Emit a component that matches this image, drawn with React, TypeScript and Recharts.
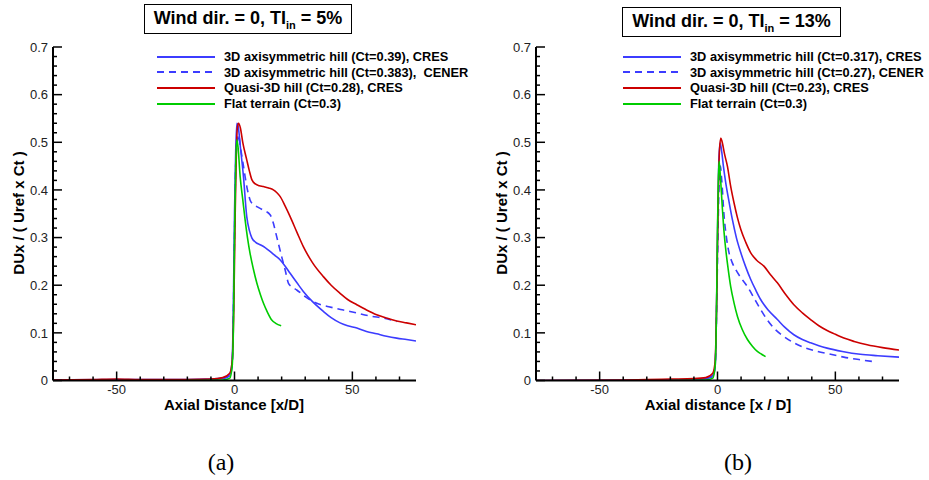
import { LineChart, Line, XAxis, YAxis } from "recharts"

// values: [x/D, DUx/(Uref x Ct)]
const aHill3dCres = [
  [-77, 0.001], [-50, 0.002], [-20, 0.002], [-10, 0.003], [-5, 0.005], [-2, 0.012], [-1, 0.04],
  [-0.5, 0.15], [0, 0.35], [0.5, 0.48], [1, 0.54], [1.5, 0.535], [2.5, 0.49], [3.8, 0.428],
  [5.2, 0.344], [6.3, 0.315], [7.4, 0.299], [9, 0.29], [10.9, 0.285], [13, 0.279], [15.1, 0.271],
  [17, 0.263], [19.4, 0.253], [21.5, 0.24], [23.6, 0.225], [26.5, 0.205], [29.2, 0.187],
  [33, 0.166], [37.7, 0.145], [41, 0.132], [44.8, 0.121], [48, 0.115], [51.9, 0.11], [56, 0.103],
  [60.3, 0.098], [64.5, 0.093], [68.8, 0.089], [73, 0.086], [77, 0.083],
]
const aHill3dCener = [
  [-20, 0.001], [-5, 0.004], [-2, 0.01], [-1, 0.03], [0, 0.3], [0.5, 0.45], [1.2, 0.5],
  [1.7, 0.516], [2.5, 0.49], [3.5, 0.46], [4.5, 0.428], [5.5, 0.4], [6.6, 0.379], [8, 0.369],
  [9.5, 0.365], [12, 0.358], [15.1, 0.348], [16.5, 0.33], [17.5, 0.31], [18.6, 0.288], [20, 0.26],
  [21.5, 0.232], [22.9, 0.204], [24.5, 0.196], [26.4, 0.19], [30, 0.176], [34.9, 0.162],
  [40, 0.155], [45, 0.149], [49, 0.145], [54, 0.139], [58, 0.135], [63.2, 0.131], [68.8, 0.124],
]
const aQuasi = [
  [-77, 0.001], [-60, 0.002], [-50, 0.003], [-40, 0.002], [-20, 0.002], [-10, 0.003], [-5, 0.006],
  [-2, 0.015], [-1, 0.04], [-0.3, 0.15], [0.3, 0.35], [0.8, 0.48], [1.2, 0.53], [1.7, 0.54],
  [2.5, 0.53], [3.5, 0.5], [5.2, 0.463], [6.3, 0.44], [7.4, 0.421], [9, 0.412], [10.5, 0.409],
  [12.3, 0.407], [14.5, 0.404], [16.5, 0.4], [18, 0.394], [19.4, 0.386], [21.5, 0.366],
  [23.6, 0.344], [26.5, 0.311], [29.2, 0.281], [33, 0.248], [37.7, 0.218], [41, 0.2],
  [44.8, 0.183], [48, 0.17], [51.9, 0.159], [56, 0.148], [60.3, 0.138], [64.5, 0.131],
  [68.8, 0.125], [73, 0.121], [77, 0.117],
]
const aFlat = [
  [-20, 0], [-5, 0.001], [-2, 0.005], [-1, 0.03], [-0.5, 0.1], [0, 0.3], [0.5, 0.45], [1, 0.505],
  [1.5, 0.49], [2.4, 0.428], [3.5, 0.38], [4.5, 0.337], [5.5, 0.3], [6.6, 0.267], [8, 0.234],
  [9.5, 0.204], [11, 0.18], [12.3, 0.162], [14, 0.143], [15.8, 0.127], [17.5, 0.12], [19.8, 0.115],
]

const bHill3dCres = [
  [-77, 0], [-30, 0.001], [-10, 0.002], [-5, 0.004], [-2, 0.01], [-1, 0.03], [-0.5, 0.12], [0, 0.3],
  [0.5, 0.45], [1.1, 0.499], [1.8, 0.48], [2.5, 0.45], [3.5, 0.415], [4.9, 0.375], [6.3, 0.338],
  [8, 0.3], [9.9, 0.268], [12, 0.238], [14.1, 0.212], [16.2, 0.19], [18.3, 0.17], [21.5, 0.148],
  [25.4, 0.128], [28.5, 0.112], [32.4, 0.096], [36, 0.086], [39.5, 0.079], [43, 0.073],
  [46.5, 0.068], [53, 0.061], [60.6, 0.055], [68, 0.052], [77, 0.049],
]
const bHill3dCener = [
  [-10, 0.001], [-2, 0.008], [-1, 0.03], [0, 0.25], [0.6, 0.4], [1.2, 0.45], [1.8, 0.42],
  [2.8, 0.345], [3.8, 0.3], [4.9, 0.268], [6.2, 0.248], [7.7, 0.233], [10, 0.215], [12.7, 0.197],
  [15.5, 0.173], [18.3, 0.149], [21, 0.128], [23.9, 0.11], [28, 0.093], [32.4, 0.079], [37, 0.069],
  [42.3, 0.061], [48, 0.055], [53.6, 0.049], [60, 0.044], [65.6, 0.04],
]
const bQuasi = [
  [-77, 0], [-40, 0.001], [-30, 0.002], [-20, 0.003], [-10, 0.004], [-5, 0.006], [-2, 0.015],
  [-1, 0.04], [-0.4, 0.15], [0.2, 0.35], [0.8, 0.48], [1.4, 0.509], [2, 0.5], [3, 0.475],
  [4.2, 0.45], [5.5, 0.41], [7, 0.373], [8.4, 0.343], [9.9, 0.317], [12, 0.29], [14.1, 0.268],
  [16.5, 0.253], [19.7, 0.24], [22.5, 0.222], [25.4, 0.205], [29, 0.18], [32.4, 0.159],
  [36, 0.142], [39.5, 0.128], [43, 0.115], [46.5, 0.105], [50, 0.097], [53.6, 0.089], [58, 0.082],
  [63.5, 0.075], [70, 0.069], [77, 0.064],
]
const bFlat = [
  [-20, 0], [-5, 0.001], [-2, 0.005], [-1, 0.03], [-0.5, 0.12], [0, 0.32], [0.4, 0.43], [0.7, 0.46],
  [1.2, 0.43], [2.1, 0.359], [2.8, 0.31], [3.5, 0.275], [4.5, 0.235], [5.6, 0.197], [7, 0.163],
  [8.5, 0.134], [10.5, 0.107], [12.7, 0.086], [14.8, 0.072], [16.9, 0.061], [18.7, 0.055], [20.4, 0.05],
]

const xTicks = [-70, -60, -50, -40, -30, -20, -10, 0, 10, 20, 30, 40, 50, 60, 70]
const yTicks = [
  0, 0.02, 0.04, 0.06, 0.08, 0.1, 0.12, 0.14, 0.16, 0.18, 0.2, 0.22, 0.24, 0.26, 0.28, 0.3, 0.32,
  0.34, 0.36, 0.38, 0.4, 0.42, 0.44, 0.46, 0.48, 0.5, 0.52, 0.54, 0.56, 0.58, 0.6, 0.62, 0.64,
  0.66, 0.68, 0.7,
]

const aNames = [
  "3D axisymmetric hill (Ct=0.39), CRES",
  "3D axisymmetric hill (Ct=0.383),  CENER",
  "Quasi-3D hill (Ct=0.28), CRES",
  "Flat terrain (Ct=0.3)",
]
const bNames = [
  "3D axisymmetric hill (Ct=0.317), CRES",
  "3D axisymmetric hill (Ct=0.27), CENER",
  "Quasi-3D hill (Ct=0.23), CRES",
  "Flat terrain (Ct=0.3)",
]

const BLUE = "#3c3cff"
const RED = "#cc0000"
const GREEN = "#00cc00"
const styles = [
  { color: BLUE, dash: undefined },
  { color: BLUE, dash: "7 5" },
  { color: RED, dash: undefined },
  { color: GREEN, dash: undefined },
]

const SANS = "'Liberation Sans', Arial, sans-serif"

const toPts = (arr: number[][]) => arr.map(([x, y]) => ({ x, y }))

const YTick = (props: any) => {
  const { x, y, payload } = props
  const v = payload.value
  const major = Math.abs(v * 10 - Math.round(v * 10)) < 1e-6
  return (
    <g>
      <line x1={x} x2={x + (major ? 9 : 4)} y1={y} y2={y} stroke="#000" strokeWidth={1.5} />
      {major && (
        <text x={x - 5} y={y} dy="0.36em" textAnchor="end" fontSize={13} fontFamily={SANS} fill="#222">
          {Number(v.toFixed(1))}
        </text>
      )}
    </g>
  )
}

const XTick = (props: any) => {
  const { x, y, payload } = props
  const v = payload.value
  const major = v % 50 === 0
  return (
    <g>
      <line x1={x} x2={x} y1={y} y2={y - (major ? 9 : 4)} stroke="#000" strokeWidth={1.5} />
      {major && (
        <text x={x} y={y + 13} textAnchor="middle" fontSize={13} fontFamily={SANS} fill="#222">
          {v}
        </text>
      )}
    </g>
  )
}

const Panel = ({ left, width, margin, series, names, title, xLabel, tag, legendX, titleBox, yLabelX }: any) => (
  <div style={{ position: "absolute", left, top: 0, width, height: 480 }}>
    <LineChart width={width} height={480} margin={margin}>
      <XAxis
        type="number"
        dataKey="x"
        domain={[-77, 77]}
        allowDataOverflow
        ticks={xTicks}
        interval={0}
        height={1}
        tickSize={0}
        tickMargin={0}
        tickLine={false}
        axisLine={{ stroke: "#000", strokeWidth: 2 }}
        tick={(p: any) => <XTick {...p} />}
      />
      <YAxis
        type="number"
        dataKey="y"
        domain={[0, 0.7]}
        allowDataOverflow
        ticks={yTicks}
        interval={0}
        width={1}
        tickSize={0}
        tickMargin={0}
        tickLine={false}
        axisLine={{ stroke: "#000", strokeWidth: 2 }}
        tick={(p: any) => <YTick {...p} />}
      />
      {series.map((s: number[][], i: number) => (
        <Line
          key={i}
          data={toPts(s)}
          dataKey="y"
          type="monotone"
          stroke={styles[i].color}
          strokeWidth={1.6}
          strokeDasharray={styles[i].dash}
          dot={false}
          isAnimationActive={false}
        />
      ))}
    </LineChart>

    {/* legend */}
    <div style={{ position: "absolute", left: legendX, top: 49, fontFamily: SANS, fontSize: 12.8, fontWeight: "bold" }}>
      {names.map((n: string, i: number) => (
        <div key={i} style={{ display: "flex", alignItems: "center", height: 15.6, whiteSpace: "pre" }}>
          <svg width={58} height={6} style={{ marginRight: 9 }}>
            <line x1={0} x2={58} y1={3} y2={3} stroke={styles[i].color} strokeWidth={1.8} strokeDasharray={styles[i].dash} />
          </svg>
          {n}
        </div>
      ))}
    </div>

    {/* title box */}
    <div
      style={{
        position: "absolute",
        left: titleBox.left,
        top: titleBox.top,
        width: titleBox.width,
        height: 30,
        boxSizing: "border-box",
        border: "1px solid #000",
        display: "flex",
        alignItems: "center",
        justifyContent: "center",
        fontFamily: SANS,
        fontSize: 18,
        fontWeight: "bold",
        whiteSpace: "pre",
      }}
    >
      <span>
        Wind dir. = 0, TI<sub style={{ fontSize: 11 }}>in</sub> = {title}
      </span>
    </div>

    {/* y label */}
    <div
      style={{
        position: "absolute",
        left: yLabelX - 100,
        top: 213 - 10,
        width: 200,
        height: 20,
        lineHeight: "20px",
        textAlign: "center",
        transform: "rotate(-90deg)",
        fontFamily: SANS,
        fontSize: 15,
        fontWeight: "bold",
        whiteSpace: "pre",
      }}
    >
      {"DUx / ( Uref x Ct )"}
    </div>

    {/* x label */}
    <div
      style={{
        position: "absolute",
        left: xLabel.cx - 150,
        top: 397.5,
        width: 300,
        height: 13,
        lineHeight: "13px",
        textAlign: "center",
        fontFamily: SANS,
        fontSize: 15,
        fontWeight: "bold",
        whiteSpace: "pre",
      }}
    >
      {xLabel.text}
    </div>

    <div
      style={{
        position: "absolute",
        left: tag.cx - 30,
        top: 449,
        width: 60,
        textAlign: "center",
        fontFamily: "'Liberation Serif', 'Times New Roman', serif",
        fontSize: 24,
      }}
    >
      {tag.text}
    </div>
  </div>
)

export default function App() {
  return (
    <div style={{ position: "absolute", left: 0, top: 0, width: 929, height: 480, background: "#fff", overflow: "hidden" }}>
      <Panel
        left={0}
        width={470}
        margin={{ left: 52, right: 54, top: 47, bottom: 98.5 }}
        series={[aHill3dCres, aHill3dCener, aQuasi, aFlat]}
        names={aNames}
        title="5%"
        xLabel={{ cx: 234, text: "Axial Distance [x/D]" }}
        tag={{ cx: 221, text: "(a)" }}
        legendX={157}
        titleBox={{ left: 144, top: 4, width: 208 }}
        yLabelX={19}
      />
      <Panel
        left={470}
        width={459}
        margin={{ left: 65, right: 30, top: 47, bottom: 98.5 }}
        series={[bHill3dCres, bHill3dCener, bQuasi, bFlat]}
        names={bNames}
        title="13%"
        xLabel={{ cx: 248, text: "Axial distance [x / D]" }}
        tag={{ cx: 268, text: "(b)" }}
        legendX={153}
        titleBox={{ left: 152, top: 7, width: 219 }}
        yLabelX={32}
      />
    </div>
  )
}
